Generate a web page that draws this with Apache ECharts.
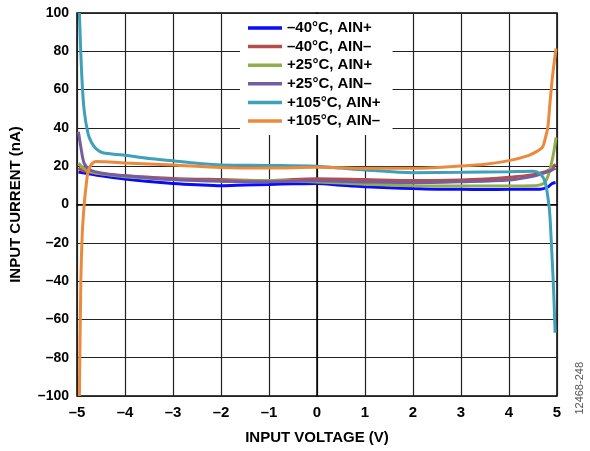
<!DOCTYPE html>
<html>
<head>
<meta charset="utf-8">
<script src="https://cdn.jsdelivr.net/npm/echarts@6/dist/echarts.min.js"></script>
<style>
  html, body { margin: 0; padding: 0; background: #fff; }
  #chart { width: 590px; height: 451px; }
</style>
</head>
<body>
<div id="chart"></div>
<script>
  // input current (nA) vs input voltage (V), pairs of [V, nA]
  var m40Pos = [[-4.97, 17], [-4.5, 15], [-4, 13.3], [-3.5, 12], [-3, 11], [-2.5, 10.3], [-2, 9.8],
    [-1.5, 10.2], [-1, 10.5], [-0.5, 10.8], [0, 11], [0.5, 10], [1, 9.3], [1.5, 8.8], [2, 8.3],
    [2.5, 8], [3, 7.9], [3.5, 7.8], [4, 7.9], [4.4, 8], [4.65, 8], [4.8, 9], [4.9, 11], [4.97, 11.5]];
  var m40Neg = [[-4.97, 19], [-4.85, 17.5], [-4.5, 16], [-4, 15], [-3, 13.6], [-2, 13], [-1, 12.5],
    [0, 13.5], [1, 13], [2, 12.5], [3, 12.8], [3.5, 13.3], [4, 14.2], [4.5, 15.6], [4.8, 17.5], [4.97, 21]];
  var p25Pos = [[-4.97, 21.5], [-4.8, 18], [-4.5, 16], [-4, 14.5], [-3, 13], [-2, 12.2], [-1, 12.5],
    [0, 11.8], [1, 10.6], [2, 9.8], [3, 9.7], [4, 9.7], [4.5, 9.8], [4.72, 11], [4.8, 14],
    [4.87, 20], [4.93, 27], [4.98, 35]];
  var p25Neg = [[-4.97, 38], [-4.92, 30], [-4.85, 21.5], [-4.72, 18], [-4.5, 16.5], [-4, 15], [-3, 13],
    [-2, 12.2], [-1, 11.9], [0, 12.4], [1, 11.8], [2, 11.4], [3, 11.9], [4, 12.8], [4.5, 14.7],
    [4.8, 17], [4.97, 19]];
  var p105Pos = [[-4.95, 100], [-4.9, 67], [-4.85, 49], [-4.77, 37], [-4.7, 32.5], [-4.6, 29],
    [-4.46, 27], [-4.04, 25.8], [-3.5, 24], [-3, 22.8], [-2.5, 21.5], [-2, 20.6], [-1, 20.4],
    [0, 20], [0.5, 19], [1, 18], [2, 16.6], [3, 16.8], [4, 17.1], [4.5, 17.3], [4.65, 16],
    [4.75, 12], [4.82, 2], [4.85, -5], [4.89, -24], [4.93, -45], [4.96, -67]];
  var p105Neg = [[-4.95, -100], [-4.92, -40], [-4.89, -15], [-4.85, 0], [-4.82, 7.6], [-4.77, 17],
    [-4.7, 21], [-4.6, 22.5], [-4.4, 22.3], [-4, 21.7], [-3, 20.6], [-2, 19.3], [-1, 19], [0, 19.5],
    [1, 18.9], [2, 18.9], [3, 20.1], [3.5, 21], [4, 22.9], [4.4, 25.5], [4.6, 28], [4.7, 30],
    [4.76, 35], [4.81, 40.5], [4.85, 52], [4.89, 63], [4.93, 72], [4.98, 81.5]];

  var names = ['\u201340\u00b0C, AIN+', '\u201340\u00b0C, AIN\u2013', '+25\u00b0C, AIN+',
    '+25\u00b0C, AIN\u2013', '+105\u00b0C, AIN+', '+105\u00b0C, AIN\u2013'];
  var colors = ['#0a0aff', '#b54d4a', '#8fae4c', '#775d9c', '#3fa0b9', '#eb8a3c'];
  var curves = [m40Pos, m40Neg, p25Pos, p25Neg, p105Pos, p105Neg];

  var font = '"Liberation Sans", Arial, sans-serif';
  // minus sign as en dash like the original
  function dash(v) { return v < 0 ? '\u2013' + Math.abs(v) : String(v); }

  var chart = echarts.init(document.getElementById('chart'));
  chart.setOption({
    animation: false,
    color: colors,
    grid: {
      left: 77, right: 33, top: 13, bottom: 55,
      show: true, borderColor: '#000', borderWidth: 1.5
    },
    legend: {
      orient: 'vertical',
      left: 240, top: 14,
      backgroundColor: '#fff',
      padding: [6, 12, 6, 8],
      icon: 'rect',
      itemWidth: 34, itemHeight: 3.5,
      itemGap: 2.6,
      textStyle: { fontFamily: font, fontWeight: 'bold', fontSize: 15, lineHeight: 16, color: '#000' },
      data: names
    },
    xAxis: {
      type: 'value',
      min: -5, max: 5, interval: 1,
      name: 'INPUT VOLTAGE (V)',
      nameLocation: 'middle', nameGap: 34,
      nameTextStyle: { fontFamily: font, fontWeight: 'bold', fontSize: 15, color: '#000' },
      axisLine: { lineStyle: { color: '#000', width: 1.5 } },
      axisTick: { show: false },
      axisLabel: { formatter: dash, margin: 9, fontFamily: font, fontWeight: 'bold', fontSize: 15, color: '#000' },
      splitLine: { lineStyle: { color: '#222', width: 1.2 } }
    },
    yAxis: {
      type: 'value',
      min: -100, max: 100, interval: 20,
      name: 'INPUT CURRENT (nA)',
      nameLocation: 'middle', nameGap: 54,
      nameTextStyle: { fontFamily: font, fontWeight: 'bold', fontSize: 15, color: '#000' },
      axisLine: { show: true, lineStyle: { color: '#000', width: 1.5 } },
      axisTick: { show: false },
      axisLabel: { formatter: dash, margin: 8, fontFamily: font, fontWeight: 'bold', fontSize: 14, color: '#000' },
      splitLine: { lineStyle: { color: '#222', width: 1.2 } }
    },
    graphic: [{
      type: 'text',
      left: 574, top: 362,
      rotation: Math.PI / 2,
      style: { text: '12468-248', fontFamily: font, fontSize: 11, fill: '#555' }
    }],
    series: curves.map(function (d, i) {
      return {
        name: names[i],
        type: 'line',
        data: d,
        showSymbol: false,
        smooth: 0.3,
        lineStyle: { width: 3 },
        z: i + 2
      };
    })
  });
</script>
</body>
</html>
